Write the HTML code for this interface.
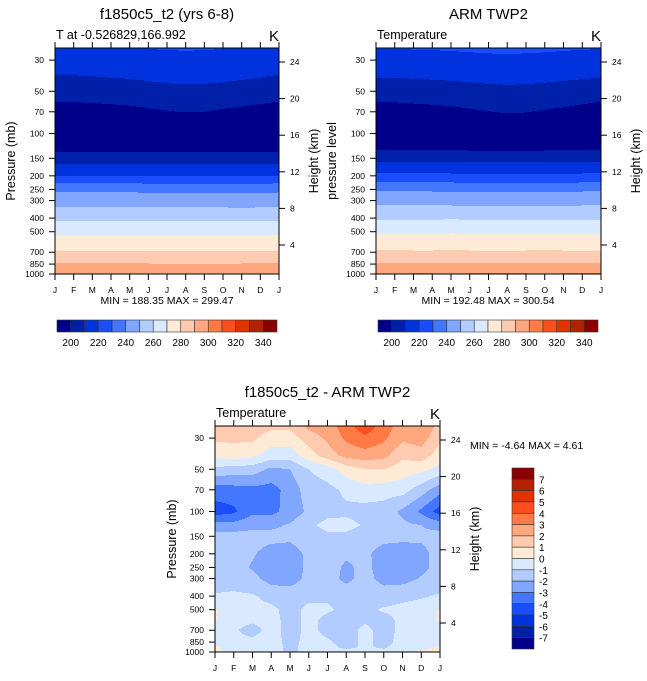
<!DOCTYPE html>
<html><head><meta charset="utf-8">
<style>
body{margin:0;background:#fff;width:647px;height:676px;overflow:hidden;font-family:"Liberation Sans",sans-serif}
svg text{font-family:"Liberation Sans",sans-serif}
</style></head><body>
<svg id="s" width="647" height="676" xmlns="http://www.w3.org/2000/svg"></svg>
<script>
const months=["J","F","M","A","M","J","J","A","S","O","N","D","J"];
const levels=[1000,925,850,700,600,500,400,300,250,200,150,125,100,70,50,40,30,25];
const pTicks=[30,50,70,100,150,200,250,300,400,500,700,850,1000];
const hTicks=[4,8,12,16,20,24];
const absBounds=[200,210,220,230,240,250,260,270,280,290,300,310,320,330,340];
const absLabels=["200","220","240","260","280","300","320","340"];
const diffBounds=[-7,-6,-5,-4,-3,-2,-1,0,1,2,3,4,5,6,7];
const diffLabels=["7","6","5","4","3","2","1","0","-1","-2","-3","-4","-5","-6","-7"];
const colors=["#00008a","#0020aa","#0033dd","#1a4dff","#4477ff","#80a6ff","#b3ccff","#d9e9ff","#ffead6","#ffcbb0","#ffa880","#ff7a45","#ff4f1e","#e03300","#b32200","#8a0000"];
const modelT=[
[299,299,299,299,299,299,299,299,299,299,299,299,299],
[295,295,295,295,295,295,295,295,295,295,295,295,295],
[290.5,290.5,290.5,290.5,290.5,290.5,290,290,290,290,290.5,290.5,290.5],
[281,281,281,281,281,281,281,281,281,281,281,281,281],
[275,275,275,275,275,275,275,275,275,275,275,275,275],
[268,268,268,268,268,268,268,268,268,268,268,268,268],
[258,258,258,258,258,258,258,258,258,258,257.5,258,258],
[245.5,245.5,245.5,245.5,245.5,245,245,245,245,245,244.5,245,245.5],
[238,238,238,238,238,238,237.5,237.5,237.5,237.5,237.5,237.5,238],
[220,220,220,220,220,219.5,219.5,219.5,219.5,219.5,219.5,219.5,220],
[205,205,205,205,205,205,205,205,205,205,205,205,205],
[196,196,196,196,196,196,195.5,195.5,195.5,196,196,196,196],
[191,191,191,191,191,191,191,191,191,191,191,191,191],
[197,197,197.3,197.6,198,198.8,199.6,200.3,200,199,198.3,197.6,197],
[203,203.2,203.6,204,204.6,205.5,206.5,207,206.7,206,205,204,203],
[209,209.2,209.5,210,210.5,211.5,212.5,213,212.7,212,211,210,209],
[215,215.2,215.5,216,216.3,216.8,217.2,217.5,217.3,217,216.3,215.6,215],
[219,219,219.2,219.5,219.7,220,220.3,220.5,220.3,220,219.7,219.3,219]];
const armT=[
[300.5,300,300.5,300.5,300,300.5,300.5,300.5,300.5,300,300.5,300.5,300.5],
[296,295.5,296,296,295.5,296,296,296,296,295.5,296,296,296],
[290.5,291,290.5,290.5,291,290.5,290.5,290.5,290.5,291,290.5,290.5,290.5],
[281,281.5,281,281,281.5,281,281,281,281,281.5,281,281,281],
[275.5,275.5,275.5,275.5,275.5,275.5,275.5,275.5,275.5,275.5,275.5,275.5,275.5],
[268.5,268.5,268.5,268.5,269,268.5,268.5,268.5,268.5,268.5,268.5,268.5,268.5],
[259,259,259,259,259,259,259,259,259,259,259,259,259],
[247,247,247,246.5,246.5,246,246,246,246,246,246,246.5,247],
[239,239,239,238.5,238.5,238,238,238,238,238,238,238.5,239],
[222,222,222,222,222,221.5,221.5,221.5,221.5,221.5,221.5,222,222],
[207,207,207,207,207,207,207,207,207,207,207,207,207],
[197,197,197,197,197,197,196.5,196.5,196.5,197,197,197,197],
[193,193,193,193,193,193,193,193,193,193,193,193,193],
[197,197.2,197.5,197.8,198.2,199,199.8,200.5,200.2,199.3,198.6,197.7,197],
[203,203.3,203.7,204.2,204.8,205.6,206.5,207,206.8,206,205,204,203],
[210,210.2,210.5,211,211.5,212.3,213,213.3,213,212.3,211.6,210.8,210],
[216,216.2,216.5,216.8,217.2,217.6,218,218.2,218,217.6,217.2,216.6,216],
[220,220,220.2,220.4,220.6,221,221.3,221.5,221.3,221,220.6,220.3,220]];
const diffT=[
[0.3,-0.4,0.2,-0.5,-1.3,-0.6,-0.6,-0.7,-0.6,-0.8,-0.5,0.2,0.3],
[0.2,-0.6,-0.5,-0.6,-1.2,-0.7,-0.7,-1.2,-0.9,-1.1,-0.6,-0.4,0.2],
[-0.4,-0.8,-0.8,-0.6,-1.3,-0.7,-0.9,-1.3,-0.8,-1.3,-0.7,-0.5,-0.4],
[-0.5,-0.9,-1.3,-0.7,-1.3,-0.8,-1.2,-1.3,-0.8,-1.3,-0.8,-0.6,-0.5],
[0.1,-0.7,-0.9,-0.7,-1.3,-0.8,-1.2,-1.4,-1.1,-1.3,-0.8,-0.5,0.1],
[0.1,-0.6,-0.7,-0.8,-1.3,-0.8,-0.9,-1.2,-1.2,-0.9,-0.8,-0.6,0.1],
[-0.9,-0.8,-0.9,-1.3,-1.4,-1.2,-1.1,-1.3,-1.2,-1.4,-1.2,-1.1,-0.9],
[-1.5,-1.5,-1.7,-2.4,-2.5,-1.7,-1.5,-2.3,-1.6,-2.4,-2.4,-1.9,-1.5],
[-1.6,-1.6,-2.1,-2.5,-2.5,-1.8,-1.5,-2.2,-1.7,-2.5,-2.5,-2.3,-1.6],
[-1.6,-1.7,-1.9,-2.4,-2.4,-1.8,-1.5,-1.8,-1.8,-2.4,-2.4,-2.3,-1.6],
[-1.6,-1.6,-1.6,-1.7,-1.8,-1.5,-1.2,-1.2,-1.5,-1.7,-1.8,-1.8,-1.6],
[-2.6,-2.6,-2.3,-2.2,-1.9,-1.2,-0.7,-0.7,-1.1,-1.4,-1.8,-2,-2.4],
[-4.5,-4.2,-3.2,-3.3,-2.6,-1.8,-1.3,-1.2,-1.4,-1.5,-2.2,-3.2,-4.5],
[-3.5,-3.4,-3.3,-3.4,-2.6,-1.5,-1.3,-0.8,-0.4,-0.5,-0.6,-1.5,-2.6],
[-1.2,-1.5,-1.5,-2.2,-2,-1,-0.5,0.5,1,1,0.5,0.3,-0.3],
[0.2,0.5,0.2,-0.5,-0.5,0.5,1.5,2.3,2.5,2.3,1.2,1.5,0.5],
[1.2,1.2,1.2,0.5,0.5,1.5,2.2,3.2,3.8,3.2,2.2,2.5,1.2],
[1.5,1.5,1.5,1.2,1.2,2.2,2.5,3.5,4.6,3.5,2.5,3.0,1.5]];

const NS="http://www.w3.org/2000/svg";
const svg=document.getElementById('s');
function el(tag,attrs,parent,txt){const e=document.createElementNS(NS,tag);for(const k in attrs)e.setAttribute(k,attrs[k]);if(txt!==undefined)e.textContent=txt;(parent||svg).appendChild(e);return e;}
function txt(x,y,s,size,anchor,name,parent,extra){const t=el('text',Object.assign({x:x,y:y,'font-size':size,'text-anchor':anchor||'start',fill:'#000'},extra||{}),parent,s);

return t;}
const PTOP=24.6;
const LL=levels.map(p=>Math.log10(p));
function colorIndex(v,b){let i=0;while(i<b.length&&v>=b[i])i++;return i;}
function sample(grid,mx,lp){
  let li=0;
  if(lp>=LL[0])li=0;else{while(li<LL.length-2&&lp<LL[li+1])li++;}
  let t=(LL[li]-lp)/(LL[li]-LL[li+1]);t=Math.max(0,Math.min(1,t));
  let mi=Math.min(11,Math.floor(mx));let u=mx-mi;
  const a=grid[li][mi],b=grid[li][mi+1],c=grid[li+1][mi],d=grid[li+1][mi+1];
  return (a*(1-u)+b*u)*(1-t)+(c*(1-u)+d*u)*t;}
function panel(o){
  const g=el('g',{});
  
  
  const W=o.x1-o.x0,H=o.y1-o.y0;
  const xs=m=>o.x0+m/12*W;
  const ys=p=>o.y1-H*Math.log10(1000/p)/Math.log10(1000/PTOP);
  const hy=h=>o.y1-29-(h-4)*9.15;
  const fill=el('g',{},g);
  
  
  const lp0=Math.log10(1000),lp1=Math.log10(PTOP);
  for(let r=0;r<H;r++){
    const lp=lp0-(H-r-0.5)/H*(lp0-lp1);
    let start=0,cur=-1;
    for(let c=0;c<=W;c++){
      let ci=-1;
      if(c<W){ci=colorIndex(sample(o.grid,(c+0.5)/W*12,lp),o.bounds);}
      if(ci!==cur){
        if(cur>=0){const rc=el('rect',{x:o.x0+start,y:o.y0+r,width:c-start,height:1.02,fill:colors[cur]},fill);
          
          }
        start=c;cur=ci;}
    }
  }
  const fr=el('rect',{x:o.x0,y:o.y0,width:W,height:H,fill:'none',stroke:'#000','stroke-width':1},g);
  
  
  const ax=el('g',{stroke:'#000','stroke-width':1},g);
  
  
  months.forEach((m,i)=>{const x=xs(i);
    el('line',{x1:x,y1:o.y0,x2:x,y2:o.y0-6},ax);
    el('line',{x1:x,y1:o.y1,x2:x,y2:o.y1+6},ax);
    txt(x,o.y1+19,m,8.5,'middle','month-label',g);});
  pTicks.forEach(p=>{const y=ys(p);
    el('line',{x1:o.x0,y1:y,x2:o.x0-6,y2:y},ax);
    txt(o.x0-11,y+3,String(p),8.5,'end','pressure-tick-label',g);});
  hTicks.forEach(h=>{const y=hy(h);
    el('line',{x1:o.x1,y1:y,x2:o.x1+6,y2:y},ax);
    txt(o.x1+11,y+3,String(h),8.5,'start','height-tick-label',g);});
  txt(o.x0+1,o.y0-9,o.sub,12.5,'start','subtitle',g);
  txt(o.x1,o.y0-7,'K',15,'end','units-label',g);
  txt((o.x0+o.x1)/2,o.y0-29,o.title,15,'middle','panel-title',g);
  const lx=o.leftLabelX,ly=(o.y0+o.y1)/2;
  txt(lx,ly,o.leftLabel,12.5,'middle','y-axis-title',g,{transform:`rotate(-90 ${lx} ${ly})`});
  const rx=o.x1+39;
  txt(rx,ly,'Height (km)',12.5,'middle','right-axis-title',g,{transform:`rotate(-90 ${rx} ${ly})`});
}
function hbar(x0,x1,y0,y1,labels){
  const g=el('g',{});
  
  
  const w=(x1-x0)/colors.length;
  colors.forEach((c,i)=>{const r=el('rect',{x:x0+i*w,y:y0,width:w,height:y1-y0,fill:c,stroke:'#333','stroke-width':0.6},g);
    
    });
  labels.forEach((l,i)=>txt(x0+w*(1+2*i),y1+14,l,10,'middle','colorbar-label',g));
}
panel({name:'model-panel',grid:modelT,bounds:absBounds,x0:55,x1:279,y0:48,y1:274,title:'f1850c5_t2 (yrs 6-8)',sub:'T at -0.526829,166.992',leftLabel:'Pressure (mb)',leftLabelX:15});
txt(167,304,'MIN = 188.35 MAX = 299.47',10.5,'middle','min-max-text');
hbar(57,277,320,332,absLabels);
panel({name:'arm-panel',grid:armT,bounds:absBounds,x0:376,x1:601,y0:48,y1:274,title:'ARM TWP2',sub:'Temperature',leftLabel:'pressure level',leftLabelX:336});
txt(488,304,'MIN = 192.48 MAX = 300.54',10.5,'middle','min-max-text');
hbar(378,598,320,332,absLabels);
panel({name:'diff-panel',grid:diffT,bounds:diffBounds,x0:215,x1:440,y0:426,y1:652,title:'f1850c5_t2 - ARM TWP2',sub:'Temperature',leftLabel:'Pressure (mb)',leftLabelX:176});
txt(470,449,'MIN =  -4.64 MAX =   4.61',10.5,'start','min-max-text');
(function(){const g=el('g',{});
  
  
  const x0=512,x1=534,y0=468,y1=649,h=(y1-y0)/colors.length;
  for(let i=0;i<colors.length;i++){const r=el('rect',{x:x0,y:y0+i*h,width:x1-x0,height:h,fill:colors[colors.length-1-i],stroke:'#333','stroke-width':0.6},g);
    
    }
  diffLabels.forEach((l,i)=>txt(539,y0+h*(i+1)+4,l,10,'start','colorbar-label',g));
})();
</script>
</body></html>
